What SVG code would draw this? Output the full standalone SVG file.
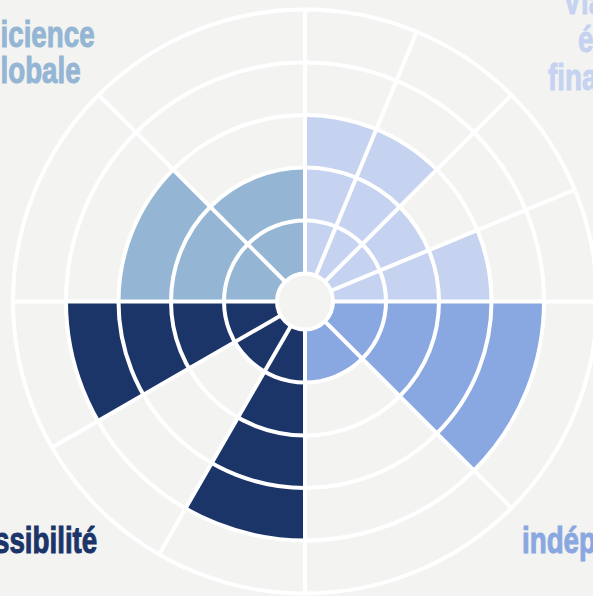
<svg xmlns="http://www.w3.org/2000/svg" width="593" height="596" viewBox="0 0 593 596">
  <style>
    .bg { fill: #F3F3F1; }
    .q1 { fill: #C5D3F0; }
    .q2 { fill: #89A7E1; }
    .q3 { fill: #1C3569; }
    .q4 { fill: #94B6D4; }
    .ring { fill: none; stroke: #FFFFFF; stroke-width: 4; }
    .spoke { stroke: #FFFFFF; stroke-width: 4; }
    .hole { fill: #F3F3F1; stroke: #FFFFFF; stroke-width: 4; }
    .lbl { font-family: "Liberation Sans", Arial, sans-serif; font-weight: bold; font-size: 37px; stroke-width: 1; }
  </style>
  <rect class="bg" x="0" y="0" width="593" height="596"/>

  <g id="quadrant-viabilite">
    <path class="q1" d="M305,301.5 L305,115 A186.5,186.5 0 0 1 376.37,129.2 Z"/>
    <path class="q1" d="M305,301.5 L376.37,129.2 A186.5,186.5 0 0 1 436.88,169.62 Z"/>
    <path class="q1" d="M305,301.5 L399.75,206.75 A134,134 0 0 1 428.8,250.22 Z"/>
    <path class="q1" d="M305,301.5 L477.3,230.13 A186.5,186.5 0 0 1 491.5,301.5 Z"/>
  </g>
  <g id="quadrant-independance">
    <path class="q2" d="M305,301.5 L544,301.5 A239,239 0 0 1 474,470.5 Z"/>
    <path class="q2" d="M305,301.5 L362.28,358.78 A81,81 0 0 1 305,382.5 Z"/>
  </g>
  <g id="quadrant-accessibilite">
    <path class="q3" d="M305,301.5 L305,540.5 A239,239 0 0 1 185.5,508.48 Z"/>
    <path class="q3" d="M305,301.5 L264.5,371.65 A81,81 0 0 1 234.85,342 Z"/>
    <path class="q3" d="M305,301.5 L98.02,421 A239,239 0 0 1 66,301.5 Z"/>
  </g>
  <g id="quadrant-efficience">
    <path class="q4" d="M305,301.5 L118.5,301.5 A186.5,186.5 0 0 1 173.12,169.62 Z"/>
    <path class="q4" d="M305,301.5 L210.25,206.75 A134,134 0 0 1 305,167.5 Z"/>
  </g>

  <g id="grid">
    <circle class="ring" cx="305" cy="301.5" r="81"/>
    <circle class="ring" cx="305" cy="301.5" r="134"/>
    <circle class="ring" cx="305" cy="301.5" r="186.5"/>
    <circle class="ring" cx="305" cy="301.5" r="239"/>
    <circle class="ring" cx="305" cy="301.5" r="292"/>
    <line class="spoke" x1="305" y1="301.5" x2="305" y2="9.5"/>
    <line class="spoke" x1="305" y1="301.5" x2="416.74" y2="31.73"/>
    <line class="spoke" x1="305" y1="301.5" x2="511.48" y2="95.02"/>
    <line class="spoke" x1="305" y1="301.5" x2="574.77" y2="189.76"/>
    <line class="spoke" x1="305" y1="301.5" x2="597" y2="301.5"/>
    <line class="spoke" x1="305" y1="301.5" x2="511.48" y2="507.98"/>
    <line class="spoke" x1="305" y1="301.5" x2="305" y2="593.5"/>
    <line class="spoke" x1="305" y1="301.5" x2="159" y2="554.38"/>
    <line class="spoke" x1="305" y1="301.5" x2="52.12" y2="447.5"/>
    <line class="spoke" x1="305" y1="301.5" x2="13" y2="301.5"/>
    <line class="spoke" x1="305" y1="301.5" x2="98.52" y2="95.02"/>
    <circle class="hole" cx="305" cy="301.5" r="28"/>
  </g>

  <g id="labels">
    <text class="lbl" fill="#94B6D4" stroke="#94B6D4" transform="translate(0.5,46.5) scale(0.75,1)">icience</text>
    <text class="lbl" fill="#94B6D4" stroke="#94B6D4" transform="translate(0.5,83) scale(0.75,1)">lobale</text>
    <text class="lbl" fill="#C5D3F0" stroke="#C5D3F0" transform="translate(563,14) scale(0.75,1)">Via</text>
    <text class="lbl" fill="#C5D3F0" stroke="#C5D3F0" transform="translate(578,52) scale(0.75,1)">é</text>
    <text class="lbl" fill="#C5D3F0" stroke="#C5D3F0" transform="translate(548,90) scale(0.75,1)">fina</text>
    <text class="lbl" fill="#1C3569" stroke="#1C3569" transform="translate(-6,553) scale(0.75,1)">ssibilité</text>
    <text class="lbl" fill="#89A7E1" stroke="#89A7E1" transform="translate(522,553) scale(0.75,1)">indép</text>
  </g>
</svg>
